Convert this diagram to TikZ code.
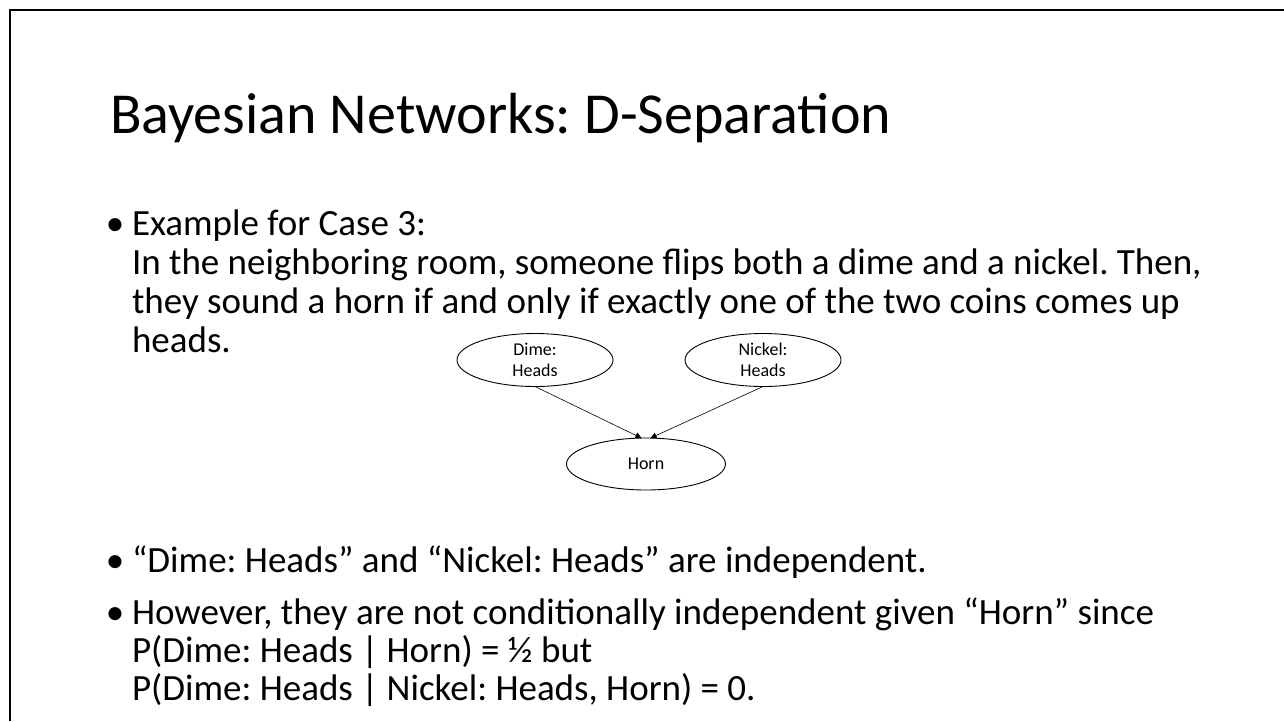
\documentclass[tikz,border=0pt]{standalone}
\usepackage{fontspec}
\setmainfont{Carlito}
\frenchspacing
\usepackage{tikz}
\usetikzlibrary{positioning}
\usetikzlibrary{arrows.meta}
\usetikzlibrary{shapes}

\begin{document}
\begin{tikzpicture}[
		>={Triangle[length=6pt, width=6pt]},
		varNode/.style = { ellipse, draw, black, line width = 0.9pt, minimum width = 156*\oneUnit, minimum height = 53*\oneUnit, font = \fontsize{18}{21}\selectfont, align = center, inner sep=0pt, outer sep=0pt, text = black },
		titleText/.style = { font = \fontsize{58}{64}\selectfont, inner sep=0pt, outer sep=0pt, anchor = base west, text = black },
		bodyText/.style = { font = \fontsize{37}{39}\selectfont, align = left, inner sep=0pt, outer sep=0pt, anchor = base west, text = black },
		bulletMark/.style = { font = \fontsize{37}{39}\selectfont, inner sep=0pt, outer sep=0pt, anchor = base, text = black },
		]
	\def\oneUnit{1pt}

	\useasboundingbox (0*\oneUnit,0*\oneUnit) rectangle (1284*\oneUnit,-721*\oneUnit);
	\draw [line width = 2pt] (10*\oneUnit,-721*\oneUnit) -- (10*\oneUnit,-10*\oneUnit) -- (1284*\oneUnit,-10*\oneUnit);

	\node[titleText] (title) at (110*\oneUnit,-133*\oneUnit) {Bayesian Networks: D-Separation};

	% multi-line nodes sit on the baseline of their last line
	\node[bulletMark] (caseBullet) at (115*\oneUnit,-235*\oneUnit) {•};
	\node[bodyText] (caseText) at (132*\oneUnit,-352*\oneUnit) {Example for Case 3:\\In the neighboring room, someone flips both a dime and a nickel. Then,\\they sound a horn if and only if exactly one of the two coins comes up\\heads.};

	\node[bulletMark] (indepBullet) at (115*\oneUnit,-572*\oneUnit) {•};
	\node[bodyText] (indepText) at (132*\oneUnit,-572*\oneUnit) {“Dime: Heads” and “Nickel: Heads” are independent.};

	\node[bulletMark] (condBullet) at (115*\oneUnit,-624*\oneUnit) {•};
	\node[bodyText, font = \fontsize{37}{38}\selectfont] (condText) at (132*\oneUnit,-700*\oneUnit) {However, they are not conditionally independent given “Horn” since\\P(Dime: Heads | Horn) = ½ but\\P(Dime: Heads | Nickel: Heads, Horn) = 0.};

	% the network
	\node[varNode] (dime) at (535*\oneUnit,-360*\oneUnit) {Dime:\\Heads};
	\node[varNode] (nickel) at (763*\oneUnit,-360*\oneUnit) {Nickel:\\Heads};
	\node[varNode, minimum width = 159*\oneUnit, minimum height = 52*\oneUnit] (horn) at (646*\oneUnit,-464*\oneUnit) {Horn};

	\draw [->, line width = 0.6pt] (dime.south) -- (horn.100);
	\draw [->, line width = 0.6pt] (nickel.south) -- (horn.80);
\end{tikzpicture}
\end{document}
